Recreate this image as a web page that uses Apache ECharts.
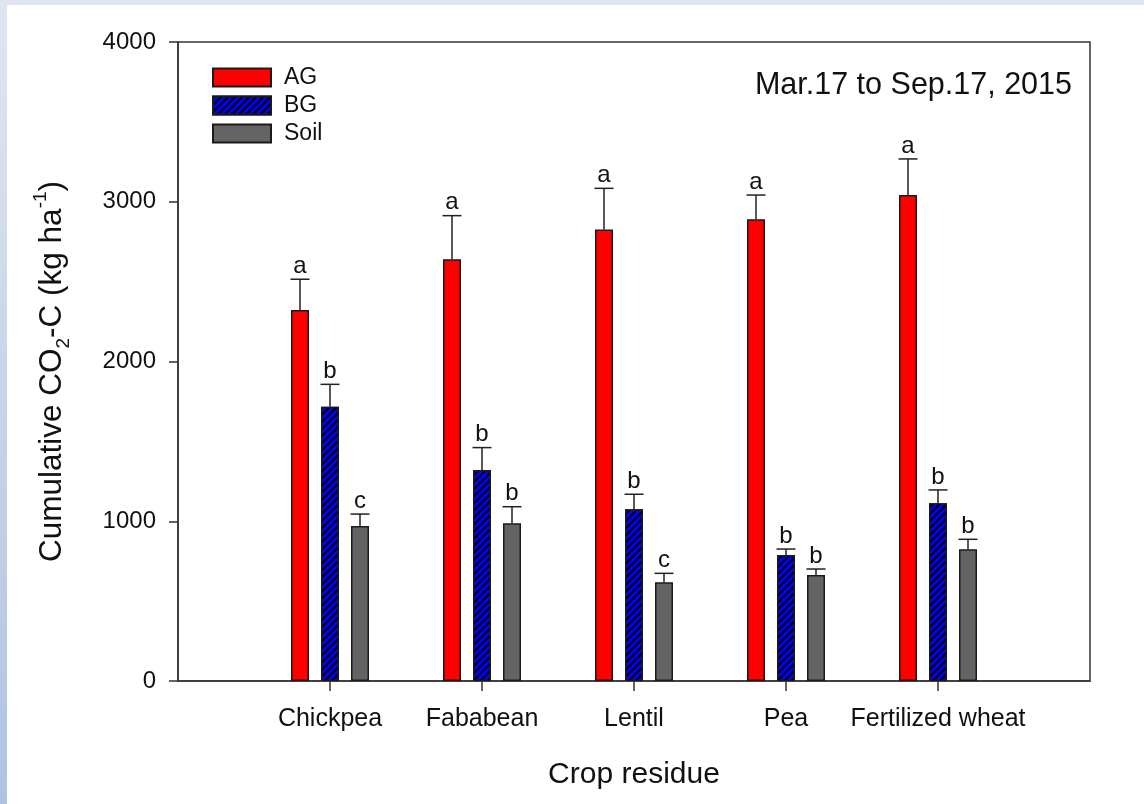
<!DOCTYPE html>
<html><head><meta charset="utf-8">
<script src="https://cdn.jsdelivr.net/npm/echarts@6/dist/echarts.min.js"></script>
<style>html,body{margin:0;padding:0;background:#fff;} #chart{width:1144px;height:804px;}</style>
</head><body><div id="chart"></div>
<script>
const categories = ['Chickpea', 'Fababean', 'Lentil', 'Pea', 'Fertilized wheat'];
const agValues = [2322, 2640, 2827, 2890, 3042];
const agErrors = [193, 273, 257, 152, 226];
const agLetters = ['a', 'a', 'a', 'a', 'a'];
const bgValues = [1717, 1321, 1075, 789, 1112];
const bgErrors = [140, 140, 94, 37, 84];
const bgLetters = ['b', 'b', 'b', 'b', 'b'];
const soilValues = [970, 987, 618, 664, 824];
const soilErrors = [75, 104, 56, 37, 63];
const soilLetters = ['c', 'b', 'c', 'b', 'b'];
const yTicks = [0, 1000, 2000, 3000, 4000];

const F = '"Liberation Sans", Arial, Helvetica, sans-serif';
const axisCats = [''].concat(categories, ['']);
const pad = arr => ['-'].concat(arr, ['-']);

function makeErr(name, values, errs, letters, offset) {
  return {
    type: 'custom', name: name, silent: true, z: 5,
    data: values.map((v, i) => [i + 1, v, errs[i]]),
    encode: { x: 0, y: 1 },
    renderItem: function (params, api) {
      const i = params.dataIndex;
      const base = api.coord([api.value(0), api.value(1)]);
      const top = api.coord([api.value(0), api.value(1) + api.value(2)]);
      const x = base[0] + offset;
      const half = 9.5;
      return {
        type: 'group', children: [
          { type: 'line', shape: { x1: x, y1: base[1], x2: x, y2: top[1] }, style: { stroke: '#222', lineWidth: 1.5 } },
          { type: 'line', shape: { x1: x - half, y1: top[1], x2: x + half, y2: top[1] }, style: { stroke: '#222', lineWidth: 1.5 } },
          { type: 'text', x: x, y: top[1] - 1, style: { text: letters[i], fill: '#111', fontSize: 24, fontFamily: F, align: 'center', verticalAlign: 'bottom' } }
        ]
      };
    }
  };
}

const chart = echarts.init(document.getElementById('chart'), null, { renderer: 'canvas' });
const barCommon = { type: 'bar', barWidth: 18, barGap: '66.67%' };
chart.setOption({
  animation: false,
  backgroundColor: '#fff',
  textStyle: { fontFamily: F },
  graphic: [
    { type: 'rect', x: 0, y: 0, shape: { width: 1144, height: 5 }, style: { fill: '#dfe6f1' }, silent: true, z: -10 },
    { type: 'rect', x: 0, y: 0, shape: { width: 7, height: 804 }, style: { fill: new echarts.graphic.LinearGradient(0, 0, 0, 1, [{ offset: 0, color: '#dfe6f1' }, { offset: 1, color: '#afc3e0' }]) }, silent: true, z: -10 }
  ],
  title: { text: 'Mar.17 to Sep.17, 2015', right: 72, top: 70, padding: 0, textStyle: { fontSize: 30.5, fontWeight: 'normal', color: '#111', fontFamily: F } },
  legend: {
    orient: 'vertical', left: 212, top: 66, itemWidth: 58, itemHeight: 18, itemGap: 5, padding: 0, icon: 'rect',
    data: ['AG', 'BG', 'Soil'], selectedMode: false,
    textStyle: { fontSize: 23, color: '#111', fontFamily: F, padding: [0, 0, 0, 8] }
  },
  grid: { left: 178, top: 42, right: 54, bottom: 123, show: true, borderColor: '#333', borderWidth: 1.5, backgroundColor: 'transparent' },
  xAxis: {
    type: 'category', data: axisCats, boundaryGap: false,
    axisLine: { show: true, lineStyle: { color: '#333', width: 1.5 } },
    axisTick: { show: true, length: 10, interval: (idx) => idx >= 1 && idx <= categories.length, lineStyle: { color: '#333', width: 1.5 } },
    axisLabel: { interval: 0, fontSize: 25, color: '#111', fontFamily: F, margin: 26 },
    splitLine: { show: false },
    name: 'Crop residue', nameLocation: 'middle', nameGap: 79,
    nameTextStyle: { fontSize: 30, color: '#111', fontFamily: F }
  },
  yAxis: {
    type: 'value', min: yTicks[0], max: yTicks[yTicks.length - 1], interval: yTicks[1] - yTicks[0],
    axisLine: { show: true, lineStyle: { color: '#333', width: 1.5 } },
    axisTick: { show: true, length: 9, inside: false, lineStyle: { color: '#333', width: 1.5 } },
    axisLabel: { fontSize: 24, color: '#111', fontFamily: F, margin: 22, formatter: (v) => String(v) },
    splitLine: { show: false },
    name: '{a|Cumulative CO}{s|2}{a|-C (kg ha}{p|-1}{a|)}', nameLocation: 'middle', nameRotate: 90, nameGap: 105,
    nameTextStyle: {
      color: '#111', fontFamily: F, fontSize: 31.5, padding: [0, 20, 0, 0],
      rich: {
        a: { fontSize: 31.5, lineHeight: 42, fontFamily: F, color: '#111' },
        s: { fontSize: 19, lineHeight: 27, verticalAlign: 'bottom', fontFamily: F, color: '#111' },
        p: { fontSize: 19, lineHeight: 19, verticalAlign: 'top', fontFamily: F, color: '#111' }
      }
    }
  },
  series: [
    Object.assign({}, barCommon, { name: 'AG', data: pad(agValues), itemStyle: { color: '#ff0000', borderColor: '#1a1a1a', borderWidth: 1.5 } }),
    Object.assign({}, barCommon, { name: 'BG', data: pad(bgValues), itemStyle: { color: '#0000ff', borderColor: '#1a1a1a', borderWidth: 1.5,
      decal: { symbol: 'rect', symbolSize: 1, dashArrayX: [1, 0], dashArrayY: [2, 3], rotation: -Math.PI / 4, color: '#000' } } }),
    Object.assign({}, barCommon, { name: 'Soil', data: pad(soilValues), itemStyle: { color: '#646464', borderColor: '#1a1a1a', borderWidth: 1.5 } }),
    makeErr('AG err', agValues, agErrors, agLetters, -30),
    makeErr('BG err', bgValues, bgErrors, bgLetters, 0),
    makeErr('Soil err', soilValues, soilErrors, soilLetters, 30)
  ]
});
</script></body></html>
